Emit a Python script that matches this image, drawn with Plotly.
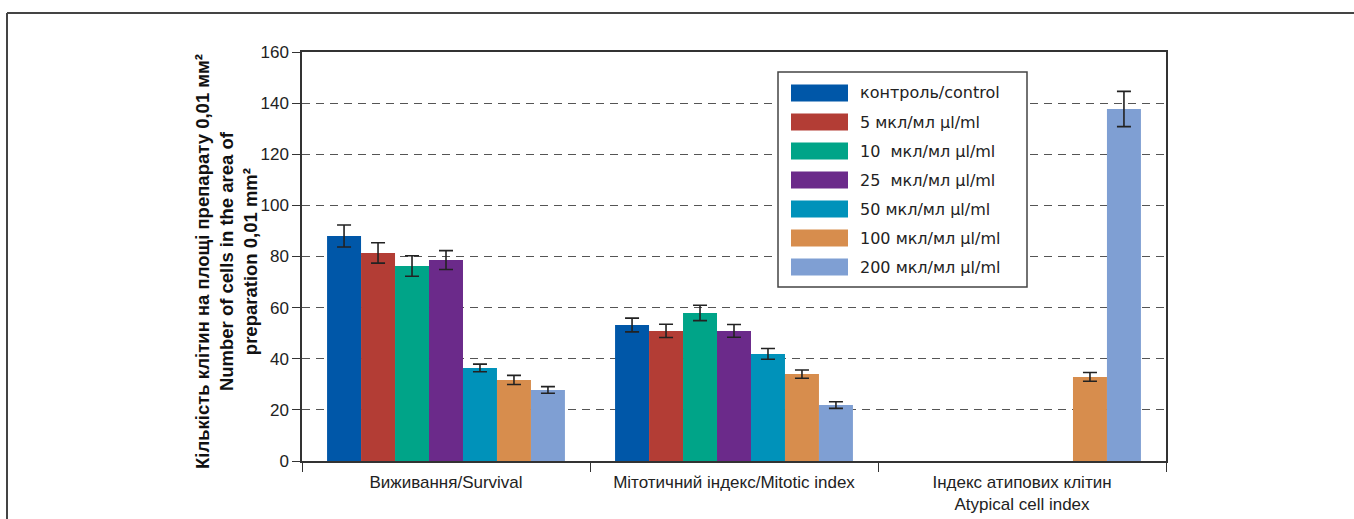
import plotly.graph_objects as go

# Groups on the x axis
categories = [
    "Виживання/Survival",
    "Мітотичний індекс/Mitotic index",
    "Індекс атипових клітин<br>Atypical cell index",
]

# Dose series: names, colours, means and error half-widths
series_names = [
    "контроль/control",
    "5 мкл/мл µl/ml",
    "10  мкл/мл µl/ml",
    "25  мкл/мл µl/ml",
    "50 мкл/мл µl/ml",
    "100 мкл/мл µl/ml",
    "200 мкл/мл µl/ml",
]
series_colors = ["#0057A8", "#B33D35", "#00A488", "#6B2A8A", "#0092BA", "#D78D4D", "#7F9FD3"]

control = [88.0, 53.2, None]
dose_5 = [81.4, 50.9, None]
dose_10 = [76.3, 57.9, None]
dose_25 = [78.6, 50.9, None]
dose_50 = [36.4, 41.9, None]
dose_100 = [31.7, 34.0, 32.9]
dose_200 = [27.8, 21.9, 137.7]

err_control = [4.3, 2.7, None]
err_5 = [4.0, 2.6, None]
err_10 = [4.0, 3.0, None]
err_25 = [3.7, 2.5, None]
err_50 = [1.5, 2.1, None]
err_100 = [1.8, 1.6, 1.7]
err_200 = [1.3, 1.3, 6.9]

y_ticks = [0, 20, 40, 60, 80, 100, 120, 140, 160]

values = [control, dose_5, dose_10, dose_25, dose_50, dose_100, dose_200]
errors = [err_control, err_5, err_10, err_25, err_50, err_100, err_200]

W, H = 1354, 519
ML, MR, MT, MB = 302, 188, 52, 58
PW, PH = W - ML - MR, H - MT - MB


def px_x(p):
    return (p - ML) / PW


def px_y(p):
    return (H - MB - p) / PH


fig = go.Figure()
for name, color, vals, errs in zip(series_names, series_colors, values, errors):
    fig.add_trace(go.Bar(
        x=categories, y=vals, name=name,
        marker=dict(color=color, line=dict(width=0)),
        error_y=dict(type="data", array=errs, visible=True,
                     color="#222222", thickness=1.6, width=7),
        showlegend=False,
    ))

tick_font = dict(family="Liberation Sans Narrow, Arial Narrow, Liberation Sans, sans-serif",
                 size=17, color="#222222")

fig.update_layout(
    width=W, height=H,
    margin=dict(l=ML, r=MR, t=MT, b=MB, autoexpand=False),
    paper_bgcolor="white", plot_bgcolor="white",
    barmode="group", bargap=0.174, bargroupgap=0,
    xaxis=dict(
        type="category", showline=True, linecolor="#333333", linewidth=1.5,
        mirror=True, ticks="outside", tickson="boundaries", ticklen=9,
        tickcolor="#333333", tickwidth=1.2, tickfont=tick_font,
        ticklabelstandoff=5, showgrid=False, automargin=False,
    ),
    yaxis=dict(
        range=[0, 160], tickvals=y_ticks, showline=True, linecolor="#333333",
        linewidth=1.5, mirror=True, ticks="outside", ticklen=8,
        tickcolor="#333333", tickwidth=1.2, tickfont=tick_font,
        showgrid=True, gridcolor="#555555", gridwidth=1, griddash="8px,6px",
        zeroline=False, automargin=False,
    ),
)

# Axis title, three lines, rotated
fig.add_annotation(
    text="<b>Кількість клітин на площі препарату 0,01 мм²<br>Number of cells in the area of<br>preparation 0,01 mm²</b>",
    xref="paper", yref="paper", x=px_x(226), y=px_y(262),
    showarrow=False, textangle=-90,
    font=dict(family="Liberation Sans, Arial, sans-serif", size=18.5, color="#111111"),
    xanchor="center", yanchor="middle",
)

# Outer frame (top and left edges)
fig.add_shape(type="line", xref="paper", yref="paper",
              x0=px_x(7), x1=px_x(W), y0=px_y(13), y1=px_y(13),
              line=dict(color="#444444", width=2))
fig.add_shape(type="line", xref="paper", yref="paper",
              x0=px_x(7), x1=px_x(7), y0=px_y(13), y1=px_y(H),
              line=dict(color="#444444", width=2))

# Legend box with large colour swatches
fig.add_shape(type="rect", xref="paper", yref="paper",
              x0=px_x(778), x1=px_x(1027), y0=px_y(72), y1=px_y(287),
              fillcolor="white", line=dict(color="#444444", width=1.5), layer="above")
row0, row_step = 93, 29
for i, (name, color) in enumerate(zip(series_names, series_colors)):
    cy = row0 + i * row_step
    fig.add_shape(type="rect", xref="paper", yref="paper",
                  x0=px_x(791), x1=px_x(848), y0=px_y(cy - 8.5), y1=px_y(cy + 8.5),
                  fillcolor=color, line=dict(width=0), layer="above")
    fig.add_annotation(text=name, xref="paper", yref="paper",
                       x=px_x(858), y=px_y(cy), xanchor="left", yanchor="middle",
                       showarrow=False,
                       font=dict(family="DejaVu Sans, sans-serif", size=16, color="#222222"))

fig.write_html("out.html")
